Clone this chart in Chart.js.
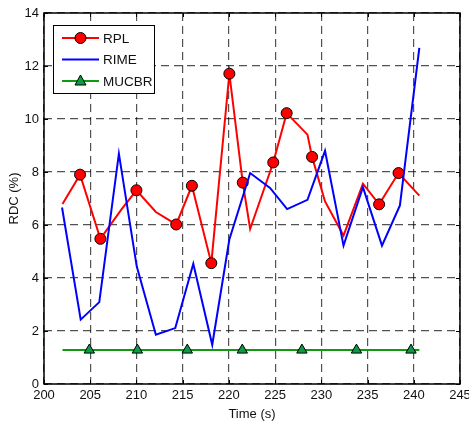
<!DOCTYPE html>
<html>
<head>
<meta charset="utf-8">
<script src="https://cdn.jsdelivr.net/npm/chart.js@4"></script>
<style>
  html, body { margin: 0; padding: 0; background: #fff; }
  #wrap { width: 469px; height: 426px; }
</style>
</head>
<body>
<div id="wrap"><canvas id="rdc"></canvas></div>
<script>
// values
const rplTime = [202, 203.9, 206.1, 208.4, 210.0, 212.1, 214.3, 216.0, 218.1, 220.05, 221.5, 222.3, 224.8, 226.25, 228.5, 229.0, 230.4, 232.4, 234.5, 236.25, 238.35, 240.6];
const rplValue = [6.79, 7.9, 5.48, 6.6, 7.31, 6.49, 6.02, 7.48, 4.56, 11.71, 7.6, 5.85, 8.36, 10.22, 9.41, 8.57, 6.89, 5.6, 7.56, 6.78, 7.96, 7.11];
const rplMarkTime = [203.9, 206.1, 210.0, 214.3, 216.0, 218.1, 220.05, 221.5, 224.8, 226.25, 229.0, 236.25, 238.35];

const rimeTime = [201.95, 203.97, 205.98, 208.1, 210.03, 212.1, 214.2, 216.15, 218.2, 220.05, 222.3, 224.45, 226.3, 228.5, 230.4, 232.4, 234.5, 236.56, 238.5, 240.6];
const rimeValue = [6.66, 2.43, 3.09, 8.69, 4.44, 1.86, 2.11, 4.54, 1.48, 5.45, 7.96, 7.4, 6.6, 6.95, 8.8, 5.22, 7.43, 5.22, 6.74, 12.68];

const mucbrTime = [202, 204.9, 210.1, 215.5, 221.45, 227.9, 233.8, 239.7, 240.6];
const mucbrValue = [1.28, 1.28, 1.28, 1.28, 1.28, 1.28, 1.28, 1.28, 1.28];
const mucbrMarkTime = [204.9, 210.1, 215.5, 221.45, 227.9, 233.8, 239.7];

const xTicks = [200, 205, 210, 215, 220, 225, 230, 235, 240, 245];
const yTicks = [0, 2, 4, 6, 8, 10, 12, 14];

const FONT = '"Liberation Sans", Arial, sans-serif';
const RED = '#ff0000', BLUE = '#0000ff', GREEN = '#119911', GREEN_FILL = '#0c9a45';

function pts(xs, ys) {
    return xs.map((x, i) => ({x: x, y: ys[i]}));
}

function markRadius(marks, r) {
    return ctx => {
        const p = ctx.raw;
        return p && marks.includes(p.x) ? r : 0;
    };
}

// box round the plot, inward ticks and the legend, MATLAB style
const axesBox = {
    id: 'axesBox',
    afterDatasetsDraw(chart) {
        const {ctx, chartArea: a, scales} = chart;
        ctx.save();
        ctx.strokeStyle = '#000';
        ctx.lineWidth = 1;
        ctx.beginPath();
        xTicks.forEach(v => {
            const px = Math.round(scales.x.getPixelForValue(v)) + 0.5;
            ctx.moveTo(px, a.bottom); ctx.lineTo(px, a.bottom - 4);
            ctx.moveTo(px, a.top); ctx.lineTo(px, a.top + 4);
        });
        yTicks.forEach(v => {
            const py = Math.round(scales.y.getPixelForValue(v)) + 0.5;
            ctx.moveTo(a.left, py); ctx.lineTo(a.left + 4, py);
            ctx.moveTo(a.right, py); ctx.lineTo(a.right - 4, py);
        });
        ctx.stroke();
        ctx.lineWidth = 1.5;
        ctx.strokeRect(a.left, a.top, a.right - a.left, a.bottom - a.top);

        // legend
        const lx = a.left + 9, ly = a.top + 12, lw = 101, lh = 68;
        ctx.fillStyle = '#fff';
        ctx.fillRect(lx, ly, lw, lh);
        ctx.lineWidth = 1;
        ctx.strokeRect(lx + 0.5, ly + 0.5, lw, lh);
        const items = [
            {label: 'RPL', color: RED, mark: 'circle', fill: RED},
            {label: 'RIME', color: BLUE, mark: null},
            {label: 'MUCBR', color: GREEN, mark: 'triangle', fill: GREEN_FILL}
        ];
        ctx.font = '13.5px ' + FONT;
        ctx.textBaseline = 'middle';
        ctx.textAlign = 'left';
        items.forEach((it, i) => {
            const y = ly + 13 + i * 21.5;
            ctx.strokeStyle = it.color;
            ctx.lineWidth = 2;
            ctx.beginPath();
            ctx.moveTo(lx + 9, y); ctx.lineTo(lx + 46, y);
            ctx.stroke();
            if (it.mark) {
                ctx.fillStyle = it.fill;
                ctx.strokeStyle = '#000';
                ctx.lineWidth = 1;
                ctx.beginPath();
                if (it.mark === 'circle') {
                    ctx.arc(lx + 27.5, y, 5.5, 0, Math.PI * 2);
                } else {
                    ctx.moveTo(lx + 27.5, y - 6);
                    ctx.lineTo(lx + 33, y + 4);
                    ctx.lineTo(lx + 22, y + 4);
                    ctx.closePath();
                }
                ctx.fill();
                ctx.stroke();
            }
            ctx.fillStyle = '#111';
            ctx.fillText(it.label, lx + 50, y + 1);
        });
        ctx.restore();
    }
};

new Chart(document.getElementById('rdc'), {
    type: 'line',
    data: {
        datasets: [
            {
                label: 'RPL',
                data: pts(rplTime, rplValue),
                borderColor: RED,
                borderWidth: 2,
                backgroundColor: RED,
                pointBorderColor: '#000',
                pointBorderWidth: 1,
                pointRadius: markRadius(rplMarkTime, 5.5),
                pointStyle: 'circle',
                order: 3
            },
            {
                label: 'RIME',
                data: pts(rimeTime, rimeValue),
                borderColor: BLUE,
                borderWidth: 2,
                pointRadius: 0,
                order: 2
            },
            {
                label: 'MUCBR',
                data: pts(mucbrTime, mucbrValue),
                borderColor: GREEN,
                borderWidth: 2,
                backgroundColor: GREEN_FILL,
                pointBorderColor: '#000',
                pointBorderWidth: 1,
                pointRadius: markRadius(mucbrMarkTime, 6),
                pointStyle: 'triangle',
                order: 1
            }
        ]
    },
    options: {
        responsive: true,
        maintainAspectRatio: false,
        animation: false,
        layout: { padding: { top: 13, right: 9, left: 3, bottom: 0 } },
        plugins: {
            legend: { display: false },
            tooltip: { enabled: false }
        },
        scales: {
            x: {
                type: 'linear',
                min: 200,
                max: 245,
                afterBuildTicks: s => { s.ticks = xTicks.map(v => ({value: v})); },
                afterFit: s => { s.height = 42; s.paddingLeft = 0; s.paddingRight = 0; },
                ticks: { color: '#111', font: { family: FONT, size: 13 }, padding: 4, maxRotation: 0 },
                grid: { color: 'rgba(0,0,0,0.68)', lineWidth: 1.2, drawTicks: false },
                border: { display: false, dash: [8, 5] },
                title: { display: true, text: 'Time (s)', color: '#111', font: { family: FONT, size: 13 }, padding: { top: 2, bottom: 4 } }
            },
            y: {
                type: 'linear',
                min: 0,
                max: 14,
                afterBuildTicks: s => { s.ticks = yTicks.map(v => ({value: v})); },
                afterFit: s => { s.width = 41; s.paddingTop = 0; s.paddingBottom = 0; },
                ticks: { color: '#111', font: { family: FONT, size: 13 }, padding: 5 },
                grid: { color: 'rgba(0,0,0,0.68)', lineWidth: 1.2, drawTicks: false },
                border: { display: false, dash: [8, 5] },
                title: { display: true, text: 'RDC (%)', color: '#111', font: { family: FONT, size: 13 }, padding: { top: 4, bottom: 0 } }
            }
        }
    },
    plugins: [axesBox]
});
</script>
</body>
</html>
